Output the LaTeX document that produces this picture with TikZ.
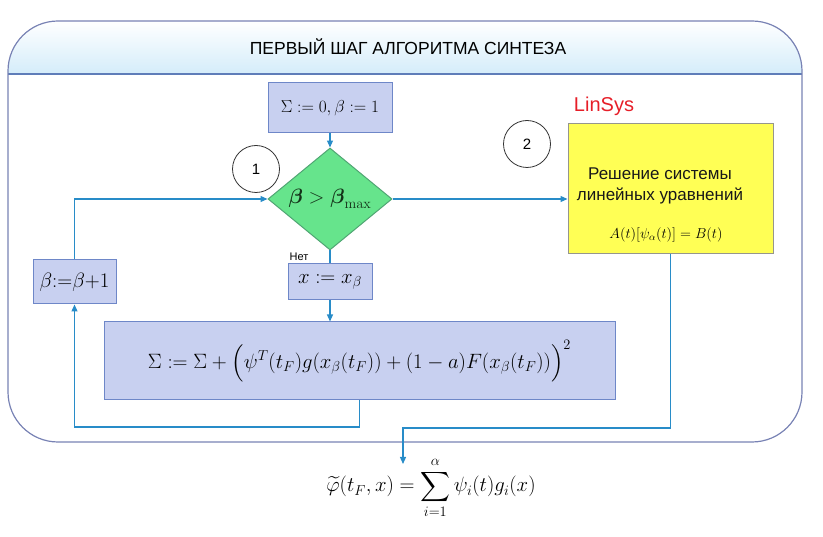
\documentclass[tikz,border=0pt]{standalone}
\usepackage{amsmath}
\usepackage[no-math]{fontspec}
\setmainfont{Liberation Sans}
\usetikzlibrary{shapes.geometric,arrows.meta}
\definecolor{boxfill}{RGB}{200,208,240}
\definecolor{boxdraw}{RGB}{110,135,200}
\definecolor{dfill}{RGB}{102,228,140}
\definecolor{ddraw}{RGB}{80,165,115}
\definecolor{yfill}{RGB}{255,255,85}
\definecolor{ydraw}{RGB}{150,150,140}
\definecolor{frame}{RGB}{120,130,180}
\definecolor{hdr}{RGB}{212,236,250}
\definecolor{hline}{RGB}{95,125,185}
\definecolor{conn}{RGB}{40,140,200}
\definecolor{lsred}{RGB}{230,30,40}
\definecolor{dtext}{RGB}{20,50,25}
\tikzset{
  x=1pt,y=-1pt,
  procbox/.style={draw=boxdraw,fill=boxfill,line width=1pt,inner sep=0pt},
  decis/.style={diamond,draw=ddraw,fill=dfill,line width=1pt,inner sep=0pt},
  solvebox/.style={draw=ydraw,fill=yfill,line width=1pt,inner sep=0pt},
  markc/.style={circle,draw=black!80,line width=0.8pt,minimum size=47pt,inner sep=0pt,font=\fontsize{15}{17}\selectfont},
  link/.style={draw=conn,line width=1.2pt},
  arr/.style={link,-{Triangle[length=7pt,width=6pt]}},
}
\begin{document}
\begin{tikzpicture}
\useasboundingbox (0,0) rectangle (823,537);
% frame
\begin{scope}
\clip[rounded corners=50pt] (8,21) rectangle (802,442);
\shade[top color=white,bottom color=hdr] (8,21) rectangle (802,74);
\end{scope}
\draw[hline,line width=1.2pt] (8,74) -- (802,74);
\draw[frame,line width=1.2pt,rounded corners=50pt] (8,21) rectangle (802,442);
\node[font=\fontsize{17.5}{20}\selectfont] (title) at (408,47) {ПЕРВЫЙ ШАГ АЛГОРИТМА СИНТЕЗА};
% nodes
\node[procbox,minimum width=124pt,minimum height=50pt,font=\fontsize{18}{22}\selectfont] (init) at (330,108) {$\Sigma := 0, \beta := 1$};
\node[decis,minimum width=124pt,minimum height=86pt,font=\fontsize{21}{24}\selectfont,text=dtext] (cond) at (330,199) {$\boldsymbol{\beta} > \boldsymbol{\beta}_{\max}$};
\node[procbox,minimum width=84pt,minimum height=36pt,font=\fontsize{20}{24}\selectfont] (xb) at (330,282) {$x := x_{\beta}$};
\node[procbox,minimum width=511pt,minimum height=78pt,font=\fontsize{20.5}{24}\selectfont] (big) at (359.5,361) {$\Sigma := \Sigma + \Bigl(\psi^{T}(t_F)g(x_{\beta}(t_F)) + (1-a)F(x_{\beta}(t_F))\Bigr)^{2}$};
\node[procbox,minimum width=83pt,minimum height=44pt,font=\fontsize{22}{26}\selectfont] (inc) at (74.5,282) {$\beta{:=}\beta{+}1$};
\node[solvebox,minimum width=205pt,minimum height=130pt] (lin) at (670.5,189) {};
\node[font=\fontsize{17}{21}\selectfont,align=center,text=black!90] (lintext) at (660,186) {Решение системы\\линейных уравнений};
\node[font=\fontsize{14.5}{16}\selectfont] (linform) at (666,235) {$A(t)[\psi_{\alpha}(t)] = B(t)$};
\node[text=lsred,font=\fontsize{20}{22}\selectfont] (linsys) at (604,106) {LinSys};
\node[markc] (c1) at (256,169) {1};
\node[markc] (c2) at (527,144) {2};
\node[font=\fontsize{11}{12}\selectfont] (net) at (299,257) {Нет};
\node[font=\fontsize{21.5}{24}\selectfont,inner sep=1pt] (res) at (431,488) {$\displaystyle \widetilde{\varphi}(t_F, x) = \sum_{i=1}^{\alpha} \psi_i(t) g_i(x)$};
\coordinate (resin) at (403,464);
% connectors
\draw[arr] (init.south) -- (cond.north);
\draw[arr] (cond.east) -- (cond.east -| lin.west);
\draw[link] (cond.south) -- (xb.north);
\draw[arr] (xb.south) -- (xb.south |- big.north);
\draw[arr] (big.south) -- (359.5,427) -- (74.5,427) -- (inc.south);
\draw[arr] (inc.north) -- (inc.north |- cond.west) -- (cond.west);
\draw[arr] (lin.south) -- (670.5,428) -- (resin |- 0,428) -- (resin);
\end{tikzpicture}
\end{document}
